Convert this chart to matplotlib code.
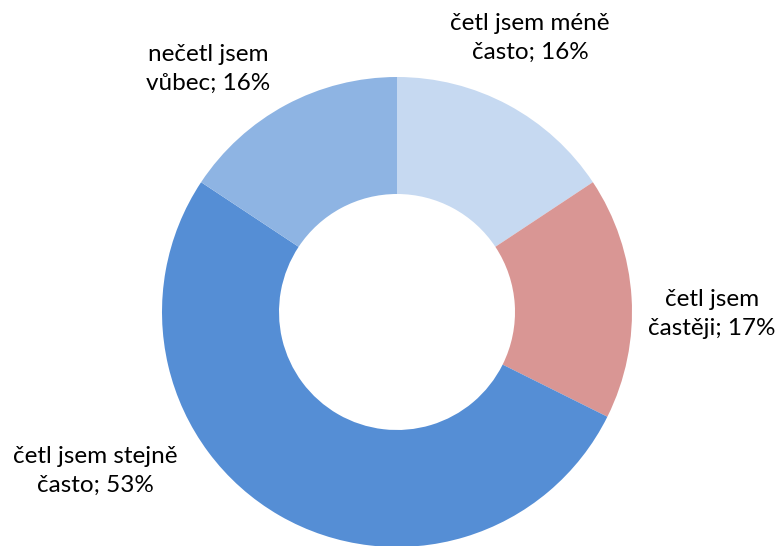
import matplotlib
matplotlib.use("Agg")
import matplotlib.pyplot as plt

labels = ["četl jsem méně\nčasto", "četl jsem\nčastěji", "četl jsem stejně\nčasto", "nečetl jsem\nvůbec"]
values = [16, 17, 53, 16]
colors = ["#C6D9F1", "#D99694", "#558ED5", "#8EB4E3"]
label_pos = [(530, 38), (712, 314), (95, 471), (208, 69)]

W, H = 778, 546
fig = plt.figure(figsize=(W / 100, H / 100), dpi=100)
ax = fig.add_axes([0, 0, 1, 1])

ax.pie(values, colors=colors, startangle=90, counterclock=False,
       center=(397, H - 312), radius=235,
       wedgeprops=dict(width=117, linewidth=0), frame=True)
ax.set_xlim(0, W)
ax.set_ylim(0, H)
ax.axis("off")

for lab, v, (x, y) in zip(labels, values, label_pos):
    ax.text(x, H - y, f"{lab}; {v}%", ha="center", va="center",
            fontsize=17.5, family="Lato", color="#000000", linespacing=1.5)

plt.savefig("out.png", dpi=100)
plt.close()
